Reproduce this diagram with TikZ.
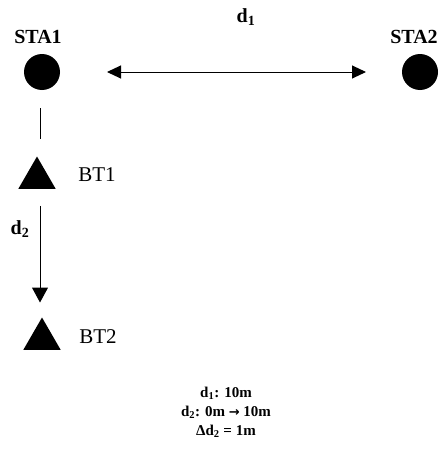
\documentclass[tikz,border=0pt]{standalone}
\usepackage{fontspec}
\setmainfont{Liberation Serif}
\newfontfamily\arrowfont{DejaVu Sans}
\usetikzlibrary{shapes.geometric,arrows.meta}
\begin{document}
\begin{tikzpicture}[x=1pt,y=-1pt,
  station/.style={circle,fill=black,minimum size=36pt,inner sep=0pt,outer sep=0pt},
  bt/.style={regular polygon,regular polygon sides=3,fill=black,minimum size=43pt,inner sep=0pt,outer sep=0pt},
  lbl/.style={font=\fontsize{20}{22}\selectfont\bfseries,inner sep=0pt},
  btlbl/.style={font=\fontsize{21}{23}\selectfont,inner sep=0pt},
  info/.style={font=\fontsize{15}{19}\selectfont\bfseries,align=center,inner sep=0pt},
  conn/.style={line width=1pt},
]
\useasboundingbox (0,0) rectangle (445,455);
\node[station] (sta1) at (42,72) {};
\node[station] (sta2) at (420,72) {};
\node[lbl] (t1) at (38,37) {STA1};
\node[lbl] (t2) at (414,37) {STA2};
\node[lbl] (d1) at (246,17) {d\textsubscript{1}};
\node[bt] (bt1) at (37,178) {};
\node[bt] (bt2) at (42,339) {};
\node[btlbl] (b1) at (97,175) {BT1};
\node[btlbl] (b2) at (98,337) {BT2};
\node[lbl] (d2) at (20,229) {d\textsubscript{2}};
\coordinate (ax) at (40,0);
\draw[conn,{Triangle[length=14pt,width=13pt]}-{Triangle[length=14pt,width=13pt]},shorten <=47pt,shorten >=36pt] (sta1.east) -- (sta2.west);
\draw[conn,shorten <=18pt,shorten >=18pt] (sta1.south -| ax) -- (bt1.north -| ax);
\draw[conn,-{Triangle[length=15pt,width=16pt]},shorten <=17pt,shorten >=15pt] (bt1.south -| ax) -- (bt2.north -| ax);
\node[info] (info) at (226,412) {d\textsubscript{1}: 10m\\ d\textsubscript{2}: 0m {\arrowfont\bfseries\fontsize{13}{19}\selectfont →} 10m\\ Δd\textsubscript{2} = 1m};
\end{tikzpicture}
\end{document}
